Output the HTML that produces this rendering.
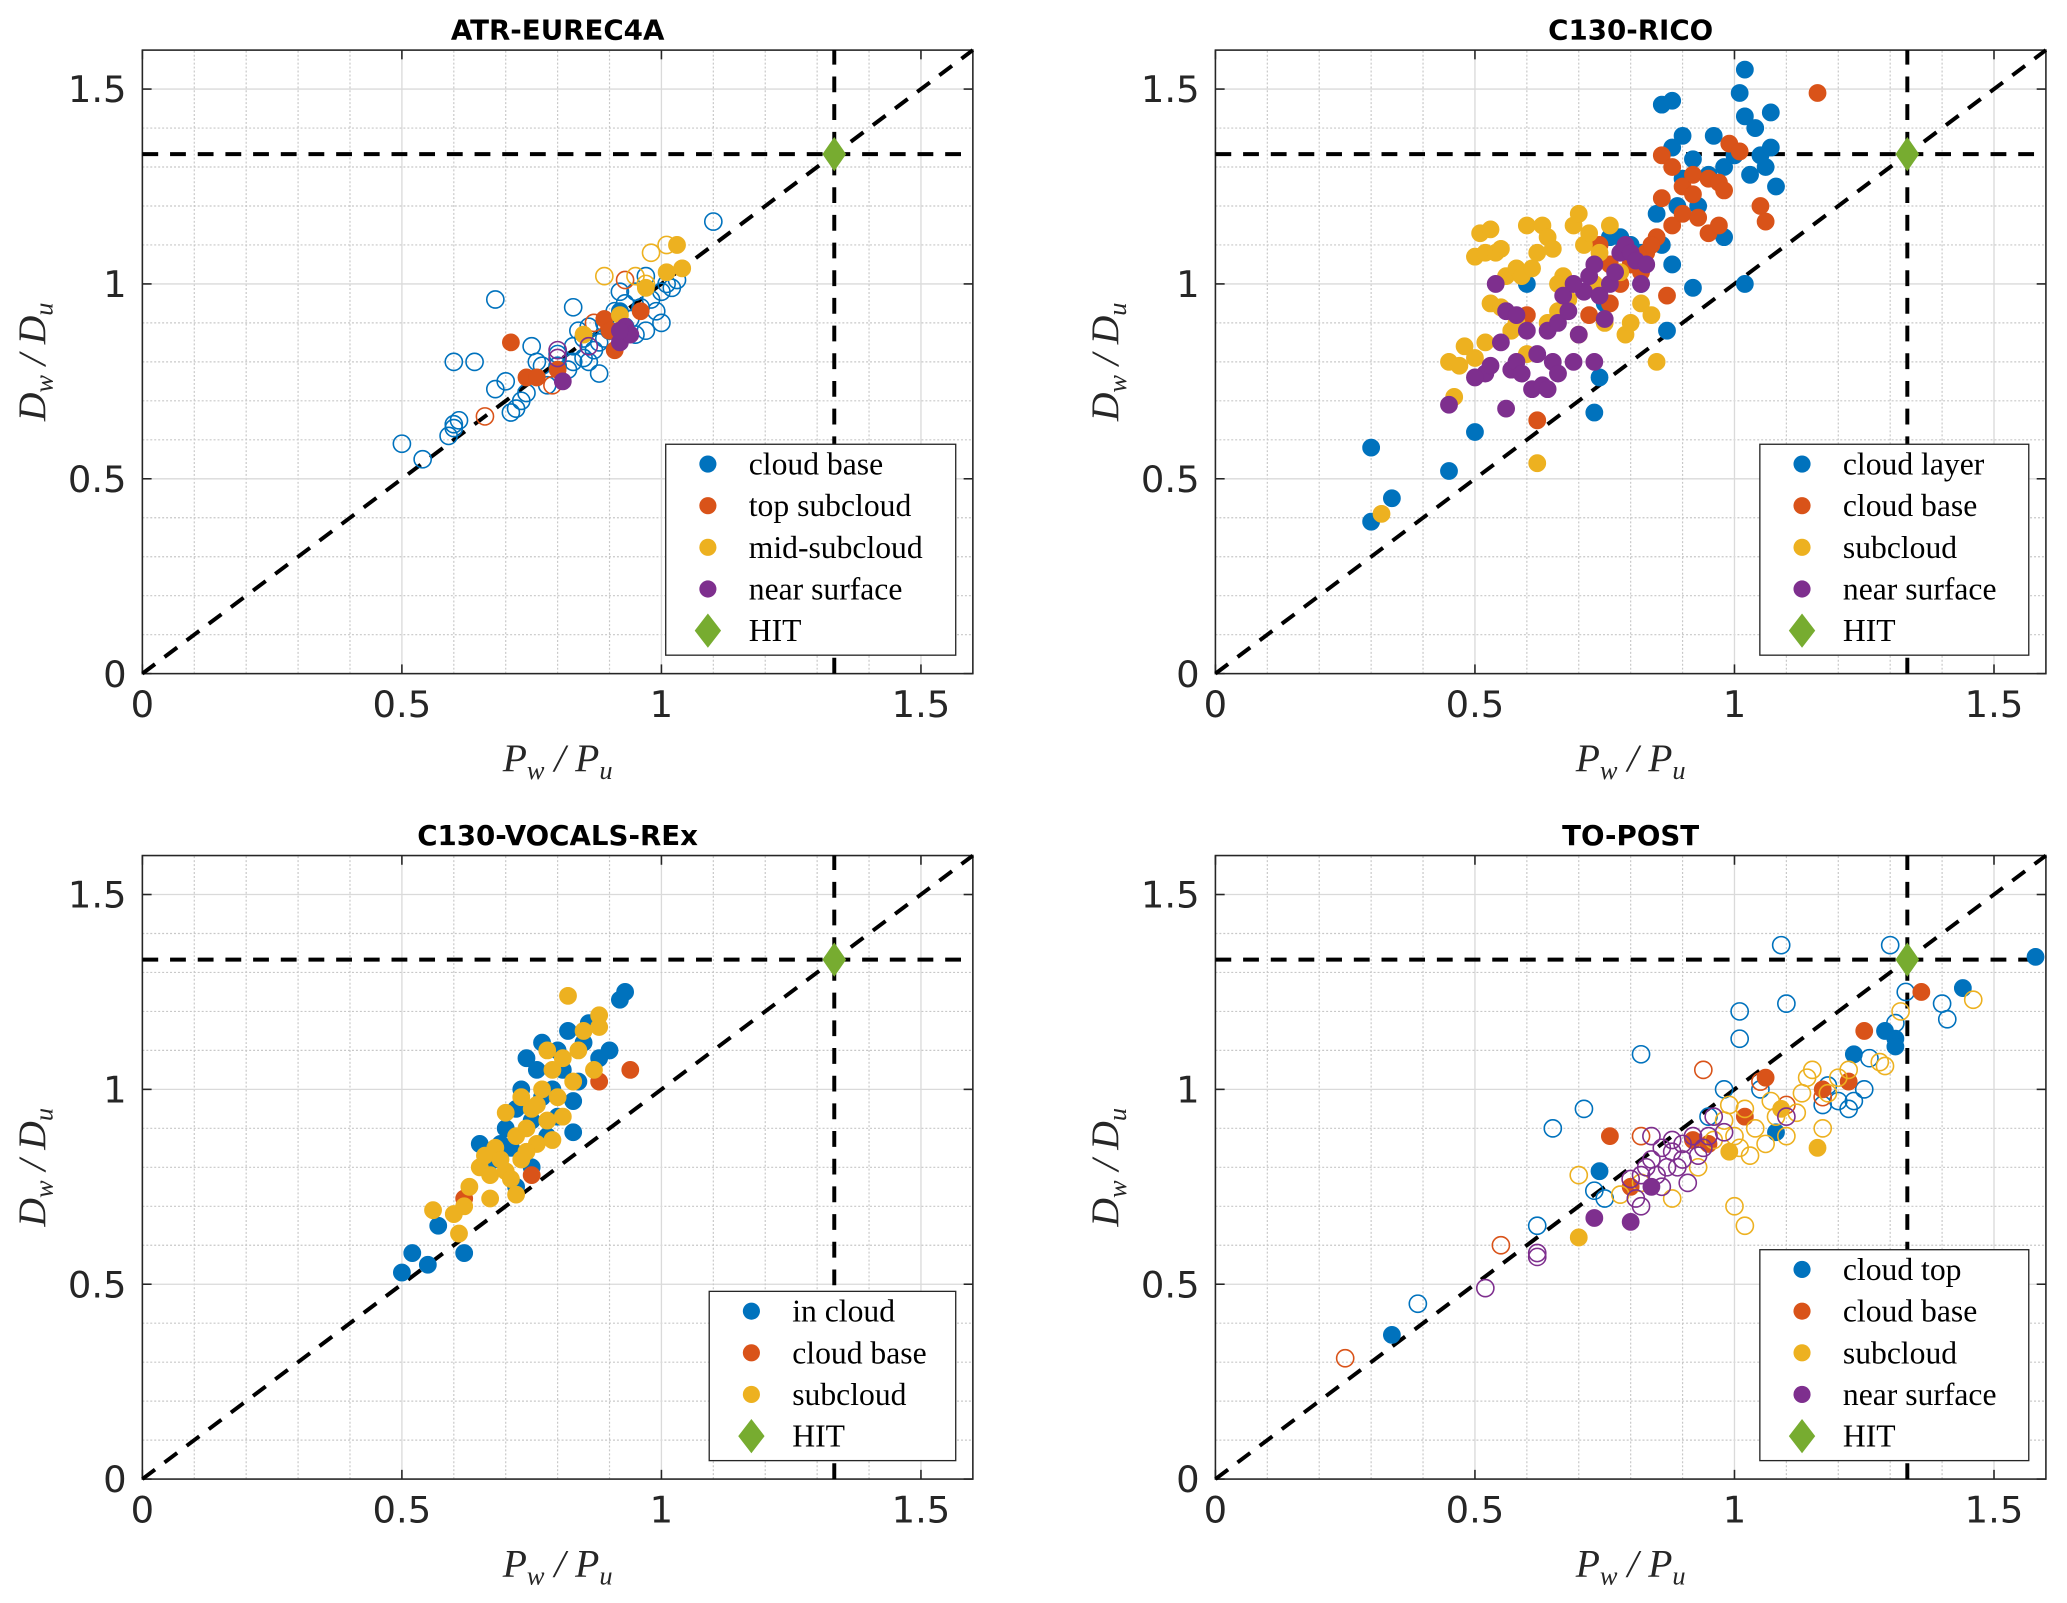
<!DOCTYPE html>
<html><head><meta charset="utf-8"><style>
html,body{margin:0;padding:0;background:#fff;}
svg{display:block;}
</style></head><body>
<svg id="fig" xmlns="http://www.w3.org/2000/svg" width="2067" height="1603" viewBox="0 0 1568 1216"></svg>
<script>
// ===== data =====
const tickValues = [0, 0.5, 1, 1.5];
const tickLabels = ["0", "0.5", "1", "1.5"];
const hitValue = 1.333;

const p1Names = ["cloud base", "top subcloud", "mid-subcloud", "near surface"];
const p1BlueOpen = [[0.50,0.59],[0.54,0.55],[0.60,0.80],[0.64,0.80],[0.59,0.61],[0.60,0.63],[0.60,0.64],[0.61,0.65],[0.68,0.96],[0.68,0.73],[0.70,0.75],[0.71,0.67],[0.72,0.68],[0.73,0.70],[0.74,0.72],[0.75,0.84],[0.76,0.80],[0.77,0.79],[0.78,0.74],[0.80,0.82],[0.82,0.78],[0.83,0.80],[0.83,0.84],[0.83,0.94],[0.84,0.88],[0.85,0.81],[0.85,0.86],[0.86,0.89],[0.87,0.83],[0.88,0.85],[0.88,0.77],[0.89,0.90],[0.89,0.86],[0.90,0.88],[0.91,0.93],[0.92,0.98],[0.93,0.95],[0.93,0.89],[0.94,0.91],[0.95,0.87],[0.96,0.94],[0.97,0.88],[0.97,1.02],[0.98,0.96],[0.99,0.93],[1.00,0.90],[1.00,0.98],[1.01,1.00],[1.02,0.99],[1.03,1.01],[0.95,0.98],[1.10,1.16],[0.80,0.79],[0.86,0.80]];
const p1BlueFill = [[0.92,0.93]];
const p1OrangeOpen = [[0.66,0.66],[0.79,0.74],[0.93,1.01],[0.87,0.90]];
const p1OrangeFill = [[0.71,0.85],[0.74,0.76],[0.76,0.76],[0.80,0.78],[0.89,0.91],[0.91,0.83],[0.96,0.93],[0.90,0.88]];
const p1YellowOpen = [[0.89,1.02],[0.98,1.08],[1.01,1.10],[0.95,1.02],[0.97,1.00]];
const p1YellowFill = [[0.85,0.87],[0.92,0.92],[0.97,0.99],[1.01,1.03],[1.03,1.10],[1.04,1.04]];
const p1PurpleOpen = [[0.80,0.83],[0.80,0.81],[0.86,0.84]];
const p1PurpleFill = [[0.81,0.75],[0.92,0.85],[0.93,0.89],[0.94,0.87],[0.92,0.88]];

const p2Names = ["cloud layer", "cloud base", "subcloud", "near surface"];
const p2BlueFill = [[0.30,0.58],[0.30,0.39],[0.34,0.45],[0.45,0.52],[0.50,0.62],[0.73,0.67],[0.74,0.76],[0.75,0.95],[0.76,1.12],[0.80,1.10],[0.82,1.00],[0.85,1.18],[0.86,1.46],[0.88,1.47],[0.88,1.35],[0.90,1.38],[0.92,1.32],[0.93,1.20],[0.95,1.28],[0.96,1.38],[0.98,1.30],[1.00,1.33],[1.01,1.49],[1.02,1.55],[1.02,1.43],[1.03,1.28],[1.04,1.40],[1.05,1.33],[1.06,1.30],[1.07,1.35],[1.07,1.44],[1.08,1.25],[1.02,1.00],[0.89,1.20],[0.90,1.27],[0.98,1.12],[0.82,1.08],[0.78,1.12],[0.86,1.10],[0.88,1.05],[0.60,1.00],[0.92,0.99],[0.87,0.88]];
const p2OrangeFill = [[1.16,1.49],[0.86,1.33],[0.88,1.30],[0.90,1.25],[0.92,1.28],[0.95,1.27],[0.97,1.26],[0.98,1.24],[0.99,1.36],[0.86,1.22],[0.88,1.15],[0.90,1.18],[0.93,1.17],[0.95,1.13],[0.97,1.15],[1.05,1.20],[1.06,1.16],[0.85,1.12],[0.83,1.08],[0.80,1.05],[0.78,1.00],[0.76,1.05],[0.74,1.10],[0.76,0.95],[0.72,0.92],[0.82,1.03],[0.62,0.65],[0.60,0.92],[0.87,0.97],[0.84,1.10],[1.01,1.34],[0.92,1.23]];
const p2YellowFill = [[0.32,0.41],[0.45,0.80],[0.46,0.71],[0.48,0.84],[0.50,1.07],[0.51,1.13],[0.52,1.08],[0.53,0.95],[0.54,1.08],[0.55,1.09],[0.56,1.02],[0.57,0.88],[0.58,1.04],[0.59,1.02],[0.60,1.15],[0.61,1.04],[0.62,1.08],[0.63,1.15],[0.64,1.12],[0.65,1.09],[0.66,0.93],[0.67,1.02],[0.68,0.96],[0.69,1.15],[0.70,1.18],[0.71,1.10],[0.72,1.13],[0.73,1.00],[0.74,1.08],[0.76,1.15],[0.78,1.03],[0.79,0.87],[0.80,0.90],[0.82,0.95],[0.85,0.80],[0.62,0.54],[0.52,0.85],[0.55,0.94],[0.58,0.90],[0.60,0.82],[0.64,0.90],[0.66,1.00],[0.70,0.87],[0.75,0.90],[0.84,0.92],[0.50,0.81],[0.47,0.79],[0.53,1.14]];
const p2PurpleFill = [[0.45,0.69],[0.52,0.77],[0.53,0.79],[0.55,0.85],[0.56,0.93],[0.57,0.78],[0.58,0.80],[0.59,0.77],[0.60,0.88],[0.61,0.73],[0.62,0.82],[0.63,0.74],[0.64,0.88],[0.65,0.80],[0.66,0.90],[0.67,0.97],[0.68,0.93],[0.69,0.80],[0.70,0.87],[0.71,0.98],[0.72,1.02],[0.73,1.05],[0.74,0.97],[0.75,0.91],[0.76,1.00],[0.77,1.03],[0.78,1.08],[0.79,1.10],[0.80,1.08],[0.81,1.06],[0.82,1.00],[0.83,1.05],[0.56,0.68],[0.54,1.00],[0.58,0.92],[0.50,0.76],[0.66,0.77],[0.73,0.80],[0.64,0.73],[0.69,1.00]];

const p3Names = ["in cloud", "cloud base", "subcloud"];
const p3BlueFill = [[0.50,0.53],[0.52,0.58],[0.55,0.55],[0.57,0.65],[0.62,0.58],[0.65,0.86],[0.66,0.80],[0.68,0.82],[0.70,0.90],[0.71,0.85],[0.72,0.95],[0.73,1.00],[0.74,1.08],[0.75,0.92],[0.76,1.05],[0.77,0.98],[0.78,0.88],[0.79,1.00],[0.80,1.10],[0.81,1.05],[0.82,1.15],[0.83,0.97],[0.84,1.02],[0.85,1.12],[0.86,1.17],[0.88,1.08],[0.90,1.10],[0.92,1.23],[0.93,1.25],[0.83,0.89],[0.75,0.80],[0.72,0.75],[0.69,0.86],[0.77,1.12],[0.80,0.93]];
const p3OrangeFill = [[0.62,0.72],[0.75,0.78],[0.88,1.02],[0.94,1.05]];
const p3YellowFill = [[0.56,0.69],[0.60,0.68],[0.61,0.63],[0.62,0.70],[0.63,0.75],[0.65,0.80],[0.66,0.83],[0.67,0.78],[0.68,0.85],[0.69,0.82],[0.70,0.79],[0.71,0.77],[0.72,0.73],[0.72,0.88],[0.73,0.82],[0.74,0.90],[0.75,0.95],[0.76,0.86],[0.77,1.00],[0.78,0.92],[0.79,1.05],[0.80,0.98],[0.81,1.08],[0.82,1.24],[0.83,1.02],[0.84,1.10],[0.85,1.15],[0.87,1.05],[0.88,1.19],[0.88,1.16],[0.70,0.94],[0.74,0.84],[0.76,0.96],[0.78,1.10],[0.67,0.72],[0.73,0.98],[0.79,0.87],[0.81,0.93]];

const p4Names = ["cloud top", "cloud base", "subcloud", "near surface"];
const p4BlueOpen = [[0.39,0.45],[0.62,0.65],[0.65,0.90],[0.71,0.95],[0.73,0.74],[0.75,0.72],[0.82,1.09],[0.95,0.93],[0.98,1.00],[1.01,1.20],[1.01,1.13],[1.05,1.00],[1.09,1.37],[1.10,1.22],[1.18,1.01],[1.20,0.97],[1.22,0.95],[1.25,1.00],[1.26,1.08],[1.30,1.37],[1.31,1.17],[1.33,1.25],[1.40,1.22],[1.41,1.18],[1.23,0.97],[1.17,0.96]];
const p4BlueFill = [[0.34,0.37],[0.74,0.79],[1.08,0.89],[1.23,1.09],[1.29,1.15],[1.31,1.13],[1.31,1.11],[1.44,1.26],[1.58,1.34]];
const p4OrangeOpen = [[0.25,0.31],[0.55,0.60],[0.82,0.88],[0.94,1.05],[1.05,1.02],[1.10,0.96],[1.17,0.98]];
const p4OrangeFill = [[0.76,0.88],[0.80,0.75],[0.92,0.87],[0.95,0.86],[1.02,0.93],[1.06,1.03],[1.17,1.00],[1.22,1.02],[1.25,1.15],[1.36,1.25]];
const p4YellowOpen = [[0.70,0.78],[0.78,0.73],[0.82,0.76],[0.88,0.72],[0.93,0.80],[0.96,0.87],[0.98,0.92],[0.99,0.96],[1.00,0.88],[1.01,0.85],[1.02,0.95],[1.03,0.83],[1.04,0.90],[1.06,0.86],[1.07,0.97],[1.08,0.93],[1.10,0.88],[1.12,0.94],[1.13,0.99],[1.14,1.03],[1.15,1.05],[1.18,0.99],[1.20,1.03],[1.22,1.05],[1.28,1.07],[1.29,1.06],[1.32,1.20],[1.46,1.23],[1.00,0.70],[1.02,0.65],[1.17,0.90]];
const p4YellowFill = [[0.70,0.62],[0.99,0.84],[1.16,0.85],[1.09,0.95]];
const p4PurpleOpen = [[0.52,0.49],[0.62,0.58],[0.62,0.57],[0.80,0.77],[0.81,0.72],[0.82,0.70],[0.83,0.80],[0.84,0.82],[0.85,0.78],[0.86,0.85],[0.87,0.80],[0.88,0.84],[0.88,0.87],[0.89,0.80],[0.90,0.86],[0.91,0.76],[0.92,0.88],[0.93,0.83],[0.94,0.85],[0.96,0.93],[0.98,0.89],[1.10,0.93],[0.84,0.88],[0.86,0.75],[0.90,0.82],[0.95,0.88],[0.82,0.78]];
const p4PurpleFill = [[0.73,0.67],[0.80,0.66],[0.84,0.75]];

// ===== drawing =====
const NS = "http://www.w3.org/2000/svg";
const svg = document.getElementById("fig");
const C = {blue:"#0072BD", orange:"#D95319", yellow:"#EDB120", purple:"#7E2F8E", green:"#77AC30"};
function mk(tag, attrs, parent){
  const e = document.createElementNS(NS, tag);
  for (const k in attrs) e.setAttribute(k, attrs[k]);
  (parent||svg).appendChild(e);
  return e;
}
const MAXV = 1.6;
function drawPanel(cfg){
  const g = mk("g", {});
  
  
  const L = cfg.left, B = cfg.bottom, W = 630, H = 473;
  const sx = v => L + v / MAXV * W;
  const sy = v => B - v / MAXV * H;
  const grid = mk("g", {}, g);
  
  
  for (let i = 1; i < 16; i++) {
    const v = i / 10;
    const major = (i % 5 === 0);
    const st = major ? {stroke:"#dadada","stroke-width":1} : {stroke:"#c8c8c8","stroke-width":0.9,"stroke-dasharray":"1.5,1.5"};
    mk("line", Object.assign({x1:sx(v), x2:sx(v), y1:sy(0), y2:sy(MAXV)}, st), grid);
    mk("line", Object.assign({x1:sx(0), x2:sx(MAXV), y1:sy(v), y2:sy(v)}, st), grid);
  }
  const box = mk("rect", {x:L, y:B-H, width:W, height:H, fill:"none", stroke:"#262626", "stroke-width":1.2}, g);
  
  
  tickValues.forEach((v, i) => {
    mk("line", {x1:sx(v), x2:sx(v), y1:B, y2:B-7, stroke:"#262626","stroke-width":1.2}, g);
    mk("line", {x1:sx(v), x2:sx(v), y1:B-H, y2:B-H+7, stroke:"#262626","stroke-width":1.2}, g);
    mk("line", {x1:L, x2:L+7, y1:sy(v), y2:sy(v), stroke:"#262626","stroke-width":1.2}, g);
    mk("line", {x1:L+W, x2:L+W-7, y1:sy(v), y2:sy(v), stroke:"#262626","stroke-width":1.2}, g);
    const xt = mk("text", {x:sx(v), y:B+33, "text-anchor":"middle", "font-size":28, "font-family":"DejaVu Sans, Liberation Sans, sans-serif", fill:"#262626"}, g);
    xt.textContent = tickLabels[i];
    
    
    const yt = mk("text", {x:L-12, y:sy(v)+10, "text-anchor":"end", "font-size":28, "font-family":"DejaVu Sans, Liberation Sans, sans-serif", fill:"#262626"}, g);
    yt.textContent = tickLabels[i];
    
    
  });
  const t = mk("text", {x:L+W/2, y:B-H-8, "text-anchor":"middle", "font-size":21, "font-weight":"bold", "font-family":"DejaVu Sans, Liberation Sans, sans-serif", fill:"#000"}, g);
  t.textContent = cfg.title;
  
  
  const xl = mk("text", {x:L+W/2, y:B+74, "text-anchor":"middle", "font-size":30, "font-style":"italic", "font-family":"Liberation Serif, serif", fill:"#262626"}, g);
  xl.innerHTML = 'P<tspan font-size="20" dy="6">w</tspan><tspan dy="-6"> / P</tspan><tspan font-size="20" dy="6">u</tspan>';
  
  
  const yl = mk("text", {x:0, y:0, "text-anchor":"middle", "font-size":30, "font-style":"italic", "font-family":"Liberation Serif, serif", fill:"#262626", transform:`translate(${L-74},${B-H/2}) rotate(-90)`}, g);
  yl.innerHTML = 'D<tspan font-size="20" dy="6">w</tspan><tspan dy="-6"> / D</tspan><tspan font-size="20" dy="6">u</tspan>';
  
  
  const dash = {stroke:"#000","stroke-width":3,"stroke-dasharray":"12,9",fill:"none"};
  const d1 = mk("line", Object.assign({x1:sx(0), y1:sy(0), x2:sx(MAXV), y2:sy(MAXV)}, dash), g);
  
  
  const d2 = mk("line", Object.assign({x1:sx(0), y1:sy(hitValue), x2:sx(MAXV), y2:sy(hitValue)}, dash), g);
  
  
  const d3 = mk("line", Object.assign({x1:sx(hitValue), y1:sy(0), x2:sx(hitValue), y2:sy(MAXV)}, dash), g);
  
  
  cfg.series.forEach(s => {
    s.pts.forEach(p => {
      if (p[0] > MAXV || p[1] > MAXV) return;
      const c = mk("circle", {cx:sx(p[0]), cy:sy(p[1]), r:6.5,
        fill: s.fill ? s.color : "none", stroke: s.color, "stroke-width": s.fill?0.5:1.2}, g);
      
      
    });
  });
  const hx = sx(hitValue), hy = sy(hitValue);
  const hit = mk("polygon", {points:`${hx},${hy-13} ${hx+9},${hy} ${hx},${hy+13} ${hx-9},${hy}`, fill:C.green}, g);
  
  
  const lg = mk("g", {}, g);
  
  
  const n = cfg.names.length + 1;
  const lx = cfg.legX, lw = L + W - 13 - lx, lyBottom = B - 14;
  const lh = n * 31.6 + 2;
  mk("rect", {x:lx, y:lyBottom-lh, width:lw, height:lh, fill:"#fff", stroke:"#262626","stroke-width":1}, lg);
  const cols = cfg.colors;
  for (let i = 0; i < n; i++) {
    const cy = lyBottom - lh + 15 + i*31.6;
    const mx = lx + 32;
    if (i < cfg.names.length) {
      const m = mk("circle", {cx:mx, cy:cy, r:6.5, fill:cols[i]}, lg);
      
      
    } else {
      const m = mk("polygon", {points:`${mx},${cy-13} ${mx+10},${cy} ${mx},${cy+13} ${mx-10},${cy}`, fill:C.green}, lg);
      
      
    }
    const tx = mk("text", {x:lx+63, y:cy+8, "font-size":24, "font-family":"Liberation Serif, serif", fill:"#000"}, lg);
    tx.textContent = i < cfg.names.length ? cfg.names[i] : "HIT";
    
    
  }
}

drawPanel({id:"atr-eurec4a", title:"ATR-EUREC4A", left:108, bottom:511, legX:505, names:p1Names,
  colors:[C.blue,C.orange,C.yellow,C.purple],
  series:[{name:"cloud-base",pts:p1BlueOpen,color:C.blue,fill:false},{name:"cloud-base",pts:p1BlueFill,color:C.blue,fill:true},
    {name:"top-subcloud",pts:p1OrangeOpen,color:C.orange,fill:false},{name:"top-subcloud",pts:p1OrangeFill,color:C.orange,fill:true},
    {name:"mid-subcloud",pts:p1YellowOpen,color:C.yellow,fill:false},{name:"mid-subcloud",pts:p1YellowFill,color:C.yellow,fill:true},
    {name:"near-surface",pts:p1PurpleOpen,color:C.purple,fill:false},{name:"near-surface",pts:p1PurpleFill,color:C.purple,fill:true}]});
drawPanel({id:"c130-rico", title:"C130-RICO", left:922, bottom:511, legX:1335, names:p2Names,
  colors:[C.blue,C.orange,C.yellow,C.purple],
  series:[{name:"cloud-layer",pts:p2BlueFill,color:C.blue,fill:true},{name:"cloud-base",pts:p2OrangeFill,color:C.orange,fill:true},
    {name:"subcloud",pts:p2YellowFill,color:C.yellow,fill:true},{name:"near-surface",pts:p2PurpleFill,color:C.purple,fill:true}]});
drawPanel({id:"c130-vocals-rex", title:"C130-VOCALS-REx", left:108, bottom:1122, legX:538, names:p3Names,
  colors:[C.blue,C.orange,C.yellow],
  series:[{name:"in-cloud",pts:p3BlueFill,color:C.blue,fill:true},{name:"cloud-base",pts:p3OrangeFill,color:C.orange,fill:true},
    {name:"subcloud",pts:p3YellowFill,color:C.yellow,fill:true}]});
drawPanel({id:"to-post", title:"TO-POST", left:922, bottom:1122, legX:1335, names:p4Names,
  colors:[C.blue,C.orange,C.yellow,C.purple],
  series:[{name:"cloud-top",pts:p4BlueOpen,color:C.blue,fill:false},{name:"cloud-top",pts:p4BlueFill,color:C.blue,fill:true},
    {name:"cloud-base",pts:p4OrangeOpen,color:C.orange,fill:false},{name:"cloud-base",pts:p4OrangeFill,color:C.orange,fill:true},
    {name:"subcloud",pts:p4YellowOpen,color:C.yellow,fill:false},{name:"subcloud",pts:p4YellowFill,color:C.yellow,fill:true},
    {name:"near-surface",pts:p4PurpleOpen,color:C.purple,fill:false},{name:"near-surface",pts:p4PurpleFill,color:C.purple,fill:true}]});
</script>
</body></html>
